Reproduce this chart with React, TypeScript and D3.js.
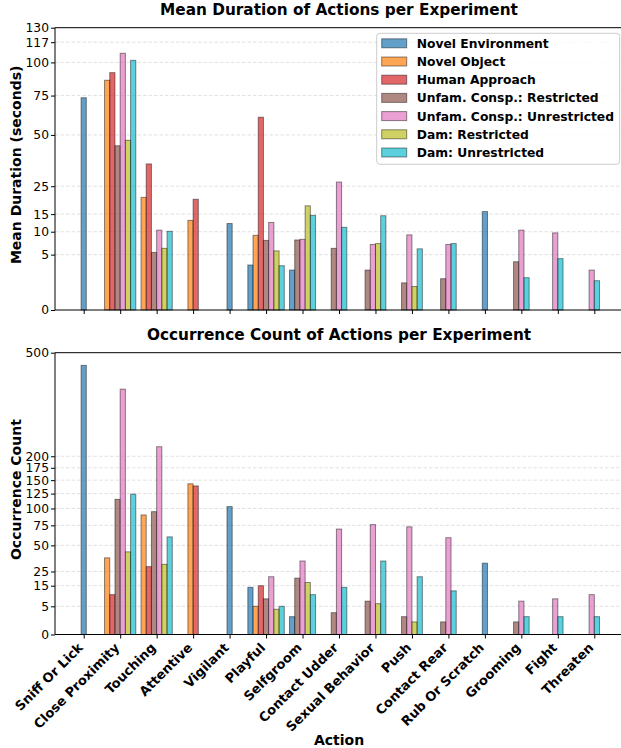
import * as d3 from "d3";
import { useEffect, useRef } from "react";

const actions = [
  "Sniff Or Lick", "Close Proximity", "Touching", "Attentive", "Vigilant", "Playful",
  "Selfgroom", "Contact Udder", "Sexual Behavior", "Push", "Contact Rear",
  "Rub Or Scratch", "Grooming", "Fight", "Threaten",
];

const seriesNames = [
  "Novel Environment", "Novel Object", "Human Approach", "Unfam. Consp.: Restricted",
  "Unfam. Consp.: Unrestricted", "Dam: Restricted", "Dam: Unrestricted",
];

const colors = ["#1f77b4", "#ff7f0e", "#d62728", "#8c564b", "#e377c2", "#bcbd22", "#17becf"];

// mean duration (s), 0 = no bar
const durNovelEnv = [73.5, 0, 0, 0, 12.2, 3.3, 2.6, 0, 0, 0, 0, 15.8, 0, 0, 0];
const durNovelObj = [0, 86.1, 20.7, 13.1, 0, 9.1, 0, 0, 0, 0, 0, 0, 0, 0, 0];
const durHuman = [0, 91.9, 34.8, 20.0, 0, 60.6, 0, 0, 0, 0, 0, 0, 0, 0, 0];
const durUnfamR = [0, 44.0, 5.4, 0, 0, 7.9, 8.0, 6.2, 2.6, 1.2, 1.6, 0, 3.8, 0, 0];
const durUnfamU = [0, 107.5, 10.4, 0, 0, 12.5, 8.15, 26.7, 7.0, 9.2, 7.0, 0, 10.4, 9.7, 2.6];
const durDamR = [0, 47.0, 6.2, 0, 0, 5.7, 17.7, 0, 7.2, 0.9, 0, 0, 0, 0, 0];
const durDamU = [0, 101.7, 10.1, 0, 0, 3.2, 14.6, 11.15, 14.5, 6.1, 7.2, 0, 1.7, 4.3, 1.4];

// occurrence counts
const cntNovelEnv = [456, 0, 0, 0, 103, 14, 2, 0, 0, 0, 0, 32, 0, 0, 0];
const cntNovelObj = [0, 37, 90, 143, 0, 5, 0, 0, 0, 0, 0, 0, 0, 0, 0];
const cntHuman = [0, 10, 29, 139, 0, 15, 0, 0, 0, 0, 0, 0, 0, 0, 0];
const cntUnfamR = [0, 115, 95, 0, 0, 8, 20, 3, 7, 2, 1, 0, 1, 0, 0];
const cntUnfamU = [0, 379, 222, 0, 0, 21, 34, 70, 76, 73, 59, 0, 7, 8, 10];
const cntDamR = [0, 43, 31, 0, 0, 4, 17, 0, 6, 1, 0, 0, 0, 0, 0];
const cntDamU = [0, 124, 60, 0, 0, 5, 10, 14, 34, 21, 12, 0, 2, 2, 2];

const durTicks = [0, 5, 10, 15, 25, 50, 75, 100, 117, 130];
const cntTicks = [0, 5, 15, 25, 50, 75, 100, 125, 150, 175, 200, 500];

const W = 621;
const H = 748;
const FONT = "DejaVu Sans, sans-serif";

export default function App() {
  const svgRef = useRef<SVGSVGElement>(null);

  useEffect(() => {
    if (!svgRef.current) return;
    const svg = d3.select(svgRef.current);
    svg.selectAll("*").remove();

    const left = 55;
    const right = 623;
    const x = d3.scalePoint<string>().domain(actions).range([left, right]).padding(0.787);
    const barW = x.step() / 7;

    const drawPanel = (
      values: number[][],
      top: number,
      bottom: number,
      maxV: number,
      ticks: number[],
      title: string,
      ylabel: string,
      showXLabels: boolean
    ) => {
      const y = d3.scaleSqrt().domain([0, maxV]).range([bottom, top]);
      const g = svg.append("g");

      // grid
      g.selectAll("line.grid")
        .data(ticks.filter((t) => t > 0 && t < maxV))
        .enter()
        .append("line")
        .attr("x1", left)
        .attr("x2", right)
        .attr("y1", (d) => y(d))
        .attr("y2", (d) => y(d))
        .attr("stroke", "#d9d9d9")
        .attr("stroke-width", 0.8)
        .attr("stroke-dasharray", "3.5,2");

      // bars, centred on the ones present in each group
      actions.forEach((a, i) => {
        const present = values
          .map((vals, s) => ({ s, v: vals[i] }))
          .filter((d) => d.v > 0);
        const m = present.length;
        const cx = x(a)!;
        present.forEach((d, k) => {
          const bx = cx + (k - (m - 1) / 2) * barW - barW / 2;
          g.append("rect")
            .attr("x", bx)
            .attr("y", y(d.v))
            .attr("width", barW)
            .attr("height", bottom - y(d.v))
            .attr("fill", colors[d.s])
            .attr("fill-opacity", 0.7)
            .attr("stroke", "#000")
            .attr("stroke-opacity", 0.45)
            .attr("stroke-width", 1);
        });
      });

      // y axis
      const yAxis = d3.axisLeft(y).tickValues(ticks).tickFormat(d3.format("d")).tickSize(4).tickPadding(2);
      const ya = g.append("g").attr("transform", `translate(${left},0)`).call(yAxis);
      ya.select(".domain").remove();
      ya.selectAll("text").attr("font-size", 12.3).attr("font-family", FONT).attr("fill", "#000");
      ya.selectAll("line").attr("stroke", "#000");

      // x axis
      const xAxis = d3.axisBottom(x).tickSize(4).tickFormat(() => "");
      const xa = g.append("g").attr("transform", `translate(0,${bottom})`).call(xAxis);
      xa.select(".domain").remove();
      xa.selectAll("line").attr("stroke", "#000");
      if (showXLabels) {
        xa.selectAll<SVGGElement, string>(".tick")
          .append("text")
          .attr("fill", "#000")
          .attr("font-family", FONT)
          .attr("font-size", 13)
          .attr("font-weight", "bold")
          .attr("text-anchor", "end")
          .attr("transform", "translate(-0.5,14) rotate(-45)")
          .text((d) => d);
      }

      // spines
      g.append("path")
        .attr("d", `M${left},${top}H${right}M${left},${top}V${bottom}H${right}`)
        .attr("fill", "none")
        .attr("stroke", "#000")
        .attr("stroke-width", 1);

      // title
      g.append("text")
        .attr("x", (left + right) / 2)
        .attr("y", top - 12.5)
        .attr("text-anchor", "middle")
        .attr("font-family", FONT)
        .attr("font-size", 15.3)
        .attr("font-weight", "bold")
        .text(title);

      g.append("text")
        .attr("transform", `translate(20.5,${(top + bottom) / 2 - 4}) rotate(-90)`)
        .attr("text-anchor", "middle")
        .attr("font-family", FONT)
        .attr("font-size", 14)
        .attr("font-weight", "bold")
        .text(ylabel);
    };

    drawPanel(
      [durNovelEnv, durNovelObj, durHuman, durUnfamR, durUnfamU, durDamR, durDamU],
      27.7, 310, 130, durTicks,
      "Mean Duration of Actions per Experiment", "Mean Duration (seconds)", false
    );
    drawPanel(
      [cntNovelEnv, cntNovelObj, cntHuman, cntUnfamR, cntUnfamU, cntDamR, cntDamU],
      352.7, 634.5, 500, cntTicks,
      "Occurrence Count of Actions per Experiment", "Occurrence Count", true
    );

    // x label
    svg.append("text")
      .attr("x", 339)
      .attr("y", 744.5)
      .attr("text-anchor", "middle")
      .attr("font-family", FONT)
      .attr("font-size", 14)
      .attr("font-weight", "bold")
      .text("Action");

    // legend
    const lg = svg.append("g").attr("transform", "translate(376.7,33.3)");
    lg.append("rect")
      .attr("width", 243)
      .attr("height", 131)
      .attr("rx", 3)
      .attr("fill", "#fff")
      .attr("fill-opacity", 0.8)
      .attr("stroke", "#ccc")
      .attr("stroke-width", 1);
    seriesNames.forEach((name, i) => {
      const ry = 10 + i * 18.2;
      lg.append("rect")
        .attr("x", 5)
        .attr("y", ry - 4.5)
        .attr("width", 25)
        .attr("height", 9)
        .attr("fill", colors[i])
        .attr("fill-opacity", 0.7)
        .attr("stroke", "#000")
        .attr("stroke-opacity", 0.45);
      lg.append("text")
        .attr("x", 40)
        .attr("y", ry + 4.5)
        .attr("font-family", FONT)
        .attr("font-size", 12.3)
        .attr("font-weight", "bold")
        .text(name);
    });
  }, []);

  return (
    <>
      <style>{`body{margin:0;}`}</style>
      <svg ref={svgRef} width={W} height={H} style={{ display: "block", background: "#fff" }} />
    </>
  );
}
